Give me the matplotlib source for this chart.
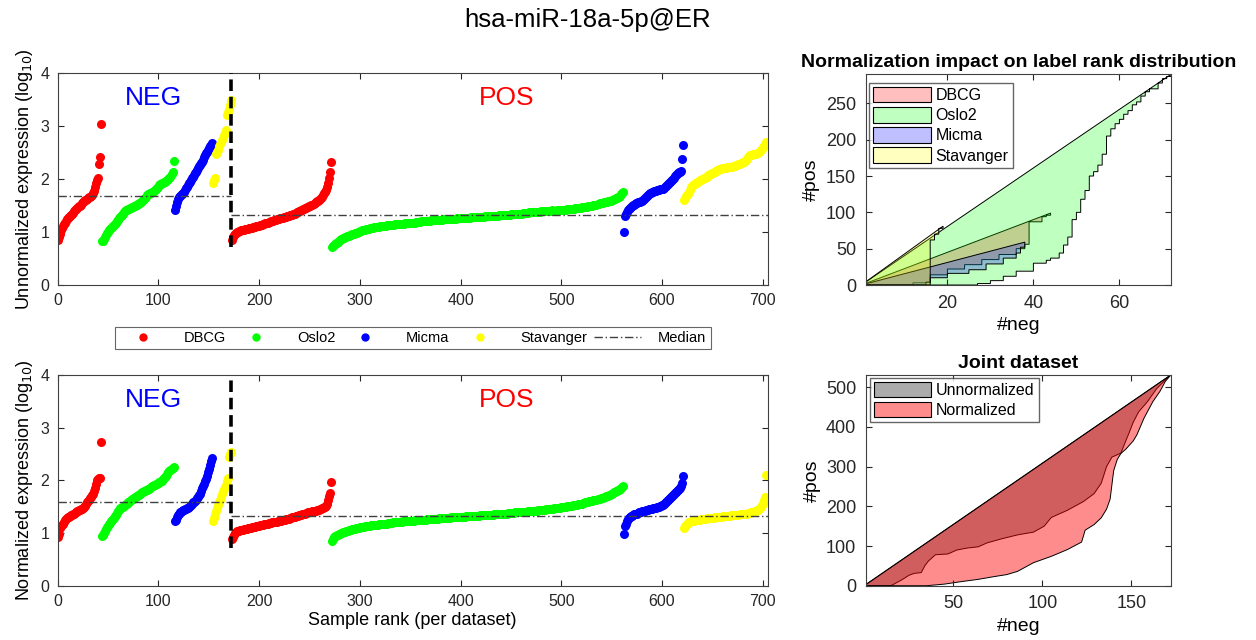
import numpy as np
import matplotlib
matplotlib.use("Agg")
import matplotlib.pyplot as plt
from matplotlib.lines import Line2D
from matplotlib.patches import Patch

plt.rcParams['font.family'] = ['Liberation Sans', 'DejaVu Sans']

datasets = ["DBCG", "Oslo2", "Micma", "Stavanger"]
colors = ["#ff0000", "#00ff00", "#0000ff", "#ffff00"]

# ---- unnormalized expression, sorted per dataset (log10) ----
raw_neg = {
    "DBCG": [0.85, 0.90, 0.97, 1.03, 1.08, 1.12, 1.15, 1.18, 1.21, 1.24, 1.26, 1.28, 1.30, 1.32, 1.34, 1.36,
             1.39, 1.41, 1.43, 1.45, 1.47, 1.49, 1.50, 1.52, 1.54, 1.56, 1.58, 1.60, 1.61, 1.63, 1.64, 1.66,
             1.67, 1.68, 1.70, 1.73, 1.78, 1.86, 1.93, 1.99, 2.02, 2.28, 2.41, 3.05],
    "Oslo2": [0.83, 0.84, 0.86, 0.90, 0.94, 0.98, 1.00, 1.03, 1.05, 1.07, 1.10, 1.12, 1.13, 1.15, 1.18, 1.20,
              1.23, 1.26, 1.29, 1.31, 1.33, 1.35, 1.37, 1.39, 1.41, 1.42, 1.43, 1.44, 1.45, 1.46, 1.47, 1.48,
              1.49, 1.50, 1.51, 1.52, 1.53, 1.54, 1.55, 1.56, 1.58, 1.60, 1.62, 1.64, 1.66, 1.70, 1.71, 1.72,
              1.73, 1.74, 1.75, 1.76, 1.78, 1.80, 1.82, 1.84, 1.86, 1.89, 1.90, 1.91, 1.92, 1.93, 1.94, 1.95,
              1.96, 1.98, 2.00, 2.03, 2.05, 2.10, 2.14, 2.35],
    "Micma": [1.42, 1.50, 1.57, 1.62, 1.66, 1.68, 1.70, 1.72, 1.74, 1.76, 1.80, 1.83, 1.86, 1.89, 1.92, 1.95,
              1.98, 2.02, 2.05, 2.08, 2.11, 2.14, 2.17, 2.21, 2.24, 2.27, 2.30, 2.33, 2.37, 2.41, 2.46, 2.49,
              2.52, 2.55, 2.58, 2.62, 2.65, 2.68],
    "Stavanger": [1.93, 1.98, 2.03, 2.48, 2.52, 2.56, 2.62, 2.66, 2.70, 2.74, 2.78, 2.83, 2.88, 2.93, 3.22,
                  3.26, 3.32, 3.40, 3.50],
}
raw_pos = {
    "DBCG": [0.85, 0.90, 0.94, 0.97, 0.99, 1.00, 1.01, 1.02, 1.02, 1.03, 1.03, 1.04, 1.04, 1.05, 1.05, 1.06,
             1.06, 1.07, 1.07, 1.08, 1.08, 1.09, 1.09, 1.10, 1.11, 1.11, 1.12, 1.12, 1.13, 1.14, 1.14, 1.15,
             1.16, 1.17, 1.17, 1.18, 1.18, 1.19, 1.19, 1.20, 1.21, 1.21, 1.22, 1.23, 1.23, 1.24, 1.24, 1.25,
             1.26, 1.26, 1.27, 1.27, 1.28, 1.29, 1.29, 1.30, 1.30, 1.31, 1.32, 1.32, 1.33, 1.34, 1.34, 1.35,
             1.36, 1.37, 1.38, 1.39, 1.40, 1.41, 1.42, 1.43, 1.44, 1.45, 1.46, 1.47, 1.48, 1.49, 1.50, 1.51,
             1.52, 1.53, 1.54, 1.56, 1.58, 1.59, 1.61, 1.63, 1.65, 1.67, 1.70, 1.73, 1.76, 1.80, 1.86, 1.92,
             2.02, 2.14, 2.33],
    "Oslo2": [0.72, 0.74, 0.76, 0.78, 0.79, 0.80, 0.82, 0.83, 0.85, 0.86, 0.87, 0.88, 0.89, 0.90, 0.91, 0.92,
              0.92, 0.93, 0.94, 0.95, 0.96, 0.96, 0.97, 0.98, 0.99, 0.99, 1.00, 1.01, 1.02, 1.02, 1.03, 1.03,
              1.04, 1.04, 1.05, 1.05, 1.06, 1.06, 1.07, 1.07, 1.08, 1.08, 1.09, 1.09, 1.09, 1.10, 1.10, 1.10,
              1.11, 1.11, 1.11, 1.12, 1.12, 1.12, 1.12, 1.13, 1.13, 1.13, 1.13, 1.14, 1.14, 1.14, 1.14, 1.15,
              1.15, 1.15, 1.15, 1.15, 1.16, 1.16, 1.16, 1.16, 1.16, 1.17, 1.17, 1.17, 1.17, 1.17, 1.18, 1.18,
              1.18, 1.18, 1.18, 1.18, 1.19, 1.19, 1.19, 1.19, 1.19, 1.20, 1.20, 1.20, 1.20, 1.20, 1.21, 1.21,
              1.21, 1.21, 1.21, 1.22, 1.22, 1.22, 1.22, 1.22, 1.22, 1.23, 1.23, 1.23, 1.23, 1.23, 1.23, 1.24,
              1.24, 1.24, 1.24, 1.24, 1.24, 1.25, 1.25, 1.25, 1.25, 1.25, 1.25, 1.25, 1.26, 1.26, 1.26, 1.26,
              1.26, 1.26, 1.26, 1.27, 1.27, 1.27, 1.27, 1.27, 1.27, 1.27, 1.28, 1.28, 1.28, 1.28, 1.28, 1.28,
              1.28, 1.29, 1.29, 1.29, 1.29, 1.29, 1.29, 1.29, 1.30, 1.30, 1.30, 1.30, 1.30, 1.30, 1.30, 1.31,
              1.31, 1.31, 1.31, 1.31, 1.31, 1.31, 1.32, 1.32, 1.32, 1.32, 1.32, 1.32, 1.33, 1.33, 1.33, 1.33,
              1.33, 1.33, 1.34, 1.34, 1.34, 1.34, 1.34, 1.34, 1.35, 1.35, 1.35, 1.35, 1.35, 1.35, 1.36, 1.36,
              1.36, 1.36, 1.36, 1.36, 1.37, 1.37, 1.37, 1.37, 1.37, 1.37, 1.38, 1.38, 1.38, 1.38, 1.38, 1.38,
              1.39, 1.39, 1.39, 1.39, 1.39, 1.39, 1.40, 1.40, 1.40, 1.40, 1.40, 1.41, 1.40, 1.40, 1.40, 1.40,
              1.41, 1.41, 1.41, 1.41, 1.41, 1.42, 1.42, 1.42, 1.42, 1.42, 1.43, 1.43, 1.43, 1.43, 1.44, 1.44,
              1.44, 1.44, 1.45, 1.45, 1.45, 1.45, 1.46, 1.46, 1.46, 1.47, 1.47, 1.47, 1.48, 1.48, 1.48, 1.49,
              1.49, 1.49, 1.50, 1.50, 1.51, 1.51, 1.52, 1.52, 1.53, 1.53, 1.54, 1.54, 1.55, 1.55, 1.56, 1.56,
              1.57, 1.57, 1.58, 1.58, 1.59, 1.59, 1.60, 1.61, 1.62, 1.63, 1.64, 1.65, 1.66, 1.67, 1.69, 1.71,
              1.73, 1.76],
    "Micma": [1.01, 1.30, 1.34, 1.38, 1.41, 1.43, 1.45, 1.47, 1.49, 1.51, 1.52, 1.53, 1.54, 1.55, 1.56, 1.57,
              1.57, 1.58, 1.59, 1.61, 1.63, 1.65, 1.67, 1.68, 1.70, 1.72, 1.73, 1.74, 1.75, 1.76, 1.77, 1.78,
              1.78, 1.79, 1.80, 1.80, 1.81, 1.81, 1.82, 1.82, 1.83, 1.85, 1.87, 1.89, 1.91, 1.93, 1.95, 1.97,
              1.99, 2.01, 2.03, 2.06, 2.08, 2.10, 2.12, 2.13, 2.14, 2.15, 2.38, 2.65],
    "Stavanger": [1.60, 1.64, 1.68, 1.70, 1.72, 1.76, 1.80, 1.85, 1.87, 1.89, 1.90, 1.91, 1.92, 1.94, 1.95,
                  1.96, 1.98, 1.99, 2.00, 2.01, 2.02, 2.03, 2.04, 2.05, 2.07, 2.08, 2.09, 2.10, 2.11, 2.12,
                  2.13, 2.14, 2.15, 2.17, 2.18, 2.19, 2.20, 2.20, 2.21, 2.21, 2.22, 2.22, 2.22, 2.23, 2.23,
                  2.23, 2.23, 2.23, 2.23, 2.24, 2.24, 2.25, 2.26, 2.27, 2.28, 2.29, 2.30, 2.31, 2.32, 2.33,
                  2.35, 2.37, 2.39, 2.41, 2.43, 2.45, 2.46, 2.46, 2.47, 2.47, 2.48, 2.48, 2.49, 2.50, 2.52,
                  2.54, 2.55, 2.57, 2.60, 2.63, 2.67, 2.70],
}

# ---- normalized expression, sorted per dataset (log10) ----
norm_neg = {
    "DBCG": [0.93, 0.98, 1.10, 1.13, 1.16, 1.18, 1.21, 1.24, 1.27, 1.29, 1.30, 1.31, 1.32, 1.34, 1.35, 1.36,
             1.37, 1.38, 1.40, 1.41, 1.42, 1.43, 1.44, 1.45, 1.46, 1.47, 1.49, 1.52, 1.55, 1.58, 1.60, 1.63,
             1.66, 1.69, 1.72, 1.75, 1.80, 1.86, 1.93, 2.00, 2.02, 2.04, 2.05, 2.72],
    "Oslo2": [0.94, 0.97, 1.00, 1.04, 1.08, 1.12, 1.14, 1.17, 1.19, 1.22, 1.25, 1.27, 1.29, 1.32, 1.35, 1.38,
              1.41, 1.44, 1.47, 1.48, 1.49, 1.50, 1.52, 1.53, 1.55, 1.56, 1.58, 1.59, 1.61, 1.62, 1.64, 1.65,
              1.67, 1.68, 1.69, 1.71, 1.72, 1.73, 1.75, 1.76, 1.77, 1.78, 1.79, 1.80, 1.81, 1.82, 1.83, 1.84,
              1.86, 1.87, 1.89, 1.90, 1.91, 1.92, 1.93, 1.94, 1.95, 1.96, 1.97, 1.98, 1.99, 2.02, 2.04, 2.06,
              2.09, 2.12, 2.15, 2.18, 2.20, 2.22, 2.24, 2.26],
    "Micma": [1.22, 1.25, 1.31, 1.34, 1.37, 1.39, 1.40, 1.42, 1.43, 1.44, 1.45, 1.46, 1.47, 1.48, 1.50, 1.52,
              1.54, 1.56, 1.58, 1.59, 1.61, 1.63, 1.66, 1.69, 1.72, 1.75, 1.79, 1.85, 1.89, 1.93, 1.98, 2.03,
              2.09, 2.16, 2.22, 2.30, 2.36, 2.43],
    "Stavanger": [1.22, 1.28, 1.37, 1.42, 1.48, 1.54, 1.58, 1.63, 1.68, 1.74, 1.79, 1.84, 1.88, 1.92, 1.98,
                  2.04, 2.44, 2.50, 2.53],
}
norm_pos = {
    "DBCG": [0.88, 0.93, 0.97, 1.00, 1.02, 1.03, 1.04, 1.04, 1.05, 1.05, 1.06, 1.06, 1.07, 1.07, 1.08, 1.08,
             1.09, 1.09, 1.10, 1.10, 1.11, 1.11, 1.12, 1.12, 1.13, 1.13, 1.14, 1.14, 1.15, 1.15, 1.16, 1.16,
             1.17, 1.17, 1.18, 1.18, 1.18, 1.19, 1.19, 1.19, 1.20, 1.20, 1.20, 1.21, 1.21, 1.21, 1.22, 1.22,
             1.22, 1.23, 1.24, 1.24, 1.25, 1.25, 1.26, 1.26, 1.27, 1.27, 1.28, 1.29, 1.30, 1.30, 1.31, 1.31,
             1.32, 1.33, 1.33, 1.34, 1.35, 1.35, 1.36, 1.36, 1.37, 1.37, 1.38, 1.38, 1.39, 1.39, 1.40, 1.40,
             1.41, 1.41, 1.42, 1.42, 1.43, 1.43, 1.44, 1.45, 1.46, 1.47, 1.48, 1.49, 1.50, 1.52, 1.55, 1.62,
             1.70, 1.76, 1.96],
    "Oslo2": [0.84, 0.88, 0.92, 0.94, 0.95, 0.96, 0.97, 0.98, 0.99, 1.00, 1.00, 1.01, 1.02, 1.02, 1.03, 1.03,
              1.04, 1.05, 1.06, 1.06, 1.07, 1.07, 1.08, 1.08, 1.09, 1.09, 1.10, 1.10, 1.11, 1.11, 1.12, 1.12,
              1.12, 1.13, 1.13, 1.13, 1.14, 1.14, 1.14, 1.15, 1.15, 1.15, 1.15, 1.16, 1.16, 1.16, 1.16, 1.17,
              1.17, 1.17, 1.17, 1.18, 1.18, 1.18, 1.18, 1.18, 1.19, 1.19, 1.19, 1.19, 1.19, 1.20, 1.20, 1.20,
              1.20, 1.20, 1.21, 1.21, 1.21, 1.21, 1.21, 1.22, 1.22, 1.22, 1.22, 1.22, 1.22, 1.23, 1.23, 1.23,
              1.23, 1.23, 1.23, 1.24, 1.24, 1.24, 1.24, 1.24, 1.24, 1.25, 1.25, 1.25, 1.25, 1.25, 1.25, 1.26,
              1.26, 1.26, 1.26, 1.26, 1.26, 1.27, 1.27, 1.27, 1.27, 1.27, 1.27, 1.28, 1.28, 1.28, 1.28, 1.28,
              1.28, 1.29, 1.29, 1.29, 1.29, 1.29, 1.29, 1.30, 1.30, 1.30, 1.30, 1.30, 1.30, 1.30, 1.31, 1.31,
              1.31, 1.31, 1.31, 1.31, 1.31, 1.32, 1.32, 1.32, 1.32, 1.32, 1.32, 1.32, 1.33, 1.33, 1.33, 1.33,
              1.33, 1.33, 1.33, 1.34, 1.34, 1.34, 1.34, 1.34, 1.34, 1.34, 1.35, 1.35, 1.35, 1.35, 1.35, 1.35,
              1.35, 1.36, 1.36, 1.36, 1.36, 1.36, 1.36, 1.36, 1.37, 1.37, 1.37, 1.37, 1.37, 1.37, 1.37, 1.38,
              1.38, 1.38, 1.38, 1.38, 1.38, 1.38, 1.39, 1.39, 1.39, 1.39, 1.39, 1.39, 1.39, 1.40, 1.40, 1.40,
              1.40, 1.40, 1.40, 1.41, 1.41, 1.41, 1.41, 1.41, 1.42, 1.42, 1.42, 1.42, 1.42, 1.43, 1.43, 1.43,
              1.43, 1.44, 1.44, 1.44, 1.44, 1.45, 1.45, 1.45, 1.45, 1.46, 1.46, 1.46, 1.46, 1.47, 1.47, 1.47,
              1.47, 1.48, 1.48, 1.48, 1.49, 1.49, 1.49, 1.50, 1.50, 1.50, 1.51, 1.51, 1.51, 1.52, 1.52, 1.52,
              1.53, 1.53, 1.53, 1.54, 1.54, 1.55, 1.55, 1.55, 1.56, 1.56, 1.57, 1.57, 1.58, 1.58, 1.59, 1.59,
              1.60, 1.60, 1.61, 1.61, 1.62, 1.62, 1.63, 1.63, 1.64, 1.65, 1.65, 1.66, 1.67, 1.67, 1.68, 1.69,
              1.70, 1.70, 1.71, 1.72, 1.73, 1.74, 1.75, 1.76, 1.77, 1.78, 1.79, 1.80, 1.81, 1.82, 1.83, 1.85,
              1.87, 1.89],
    "Micma": [0.99, 1.14, 1.18, 1.22, 1.26, 1.28, 1.30, 1.32, 1.33, 1.35, 1.36, 1.36, 1.37, 1.37, 1.38, 1.39,
              1.40, 1.40, 1.41, 1.41, 1.42, 1.42, 1.43, 1.44, 1.44, 1.45, 1.45, 1.46, 1.46, 1.47, 1.47, 1.48,
              1.48, 1.49, 1.49, 1.50, 1.51, 1.52, 1.53, 1.54, 1.56, 1.57, 1.59, 1.61, 1.63, 1.65, 1.67, 1.69,
              1.70, 1.72, 1.74, 1.76, 1.78, 1.80, 1.81, 1.83, 1.86, 1.90, 1.95, 2.08],
    "Stavanger": [1.09, 1.13, 1.16, 1.18, 1.19, 1.20, 1.21, 1.22, 1.22, 1.23, 1.23, 1.24, 1.24, 1.24, 1.25,
                  1.25, 1.25, 1.26, 1.26, 1.26, 1.27, 1.27, 1.27, 1.28, 1.28, 1.28, 1.28, 1.29, 1.29, 1.29,
                  1.29, 1.30, 1.30, 1.30, 1.30, 1.31, 1.31, 1.31, 1.31, 1.32, 1.32, 1.32, 1.32, 1.33, 1.33,
                  1.33, 1.33, 1.34, 1.34, 1.34, 1.34, 1.35, 1.35, 1.35, 1.35, 1.36, 1.36, 1.36, 1.36, 1.37,
                  1.37, 1.37, 1.37, 1.38, 1.38, 1.38, 1.39, 1.39, 1.40, 1.40, 1.41, 1.42, 1.43, 1.44, 1.46,
                  1.48, 1.50, 1.53, 1.56, 1.62, 1.68, 2.10],
}

# medians (NEG, POS)
median_raw = [1.68, 1.32]
median_norm = [1.58, 1.33]

# ---- label rank curves (#neg, #pos) per dataset ----
curve_neg = {
    "DBCG": [0, 8, 12, 16, 16, 20, 24, 28, 32, 36, 38, 39, 41, 42, 43, 44],
    "Oslo2": [0, 24, 27, 30, 33, 36, 40, 43, 44, 46, 47, 48, 49, 49, 50, 51, 52, 53, 54, 55, 56, 57, 58, 59,
              60, 61, 62, 63, 64, 65, 66, 67, 69, 70, 71, 72],
    "Micma": [0, 12, 15, 16, 20, 25, 29, 33, 36, 37, 38],
    "Stavanger": [0, 16, 16, 17, 17, 18, 18, 19],
}
curve_pos = {
    "DBCG": [0, 0, 3, 6, 14, 22, 28, 35, 42, 50, 56, 87, 87, 94, 96, 99],
    "Oslo2": [0, 0, 2, 6, 12, 19, 30, 34, 37, 44, 55, 66, 76, 90, 100, 118, 130, 150, 156, 165, 180, 205,
              215, 222, 228, 235, 240, 248, 252, 260, 266, 270, 278, 284, 287, 290],
    "Micma": [0, 0, 4, 10, 16, 21, 29, 37, 44, 52, 59],
    "Stavanger": [0, 0, 62, 64, 70, 72, 78, 81],
}

# ---- joint dataset curves ----
joint_unnorm_neg = [0, 15, 20, 23, 25, 28, 32, 34, 36, 40, 47, 52, 58, 64, 69, 77, 86, 95, 101, 105, 114, 123,
                    129, 133, 136, 139, 144, 148, 151, 154, 159, 164, 168, 172]
joint_unnorm_pos = [0, 0, 12, 20, 26, 31, 33, 50, 62, 78, 80, 90, 95, 98, 108, 118, 128, 135, 150, 172, 190,
                    212, 232, 258, 300, 324, 334, 378, 412, 438, 464, 496, 514, 531]
joint_norm_neg = [0, 35, 45, 54, 64, 73, 80, 86, 95, 105, 114, 122, 124, 129, 133, 136, 138, 140, 142, 144,
                  147, 151, 153, 157, 162, 166, 169, 172]
joint_norm_pos = [0, 0, 4, 10, 16, 23, 28, 36, 58, 74, 91, 110, 140, 154, 171, 193, 218, 290, 318, 333,
                  345, 365, 380, 422, 464, 490, 515, 531]


def stair(xs, ys):
    sx, sy = [xs[0]], [ys[0]]
    for i in range(1, len(xs)):
        sx += [xs[i], xs[i]]
        sy += [ys[i - 1], ys[i]]
    return sx, sy


def style_axes(ax, size, pad):
    for sp in ax.spines.values():
        sp.set_color("#404040")
        sp.set_linewidth(0.8)
    ax.tick_params(direction="in", top=True, right=True, length=4, width=0.8,
                   colors="#262626", labelsize=size, pad=pad)


def expression_panel(ax, neg, pos, med, ylabel):
    start = 0
    for name, c in zip(datasets, colors):
        v = neg[name]
        ax.plot(np.arange(start, start + len(v)), v, "o", color=c, ms=6.5, mew=0, zorder=2)
        start += len(v)
    split = start - 0.5
    for name, c in zip(datasets, colors):
        v = pos[name]
        ax.plot(np.arange(start, start + len(v)), v, "o", color=c, ms=6.5, mew=0, zorder=2)
        start += len(v)
    ax.plot([0, split], [med[0], med[0]], color="#404040", lw=1, dashes=(6, 2, 1, 2), zorder=3)
    ax.plot([split, 705], [med[1], med[1]], color="#404040", lw=1, dashes=(6, 2, 1, 2), zorder=3)
    ax.plot([split, split], [0.72, 4.0], color="black", lw=2.6, dashes=(3.2, 1.6), zorder=4)
    ax.text(95, 3.53, "NEG", color="#0000ff", fontsize=19, ha="center", va="center")
    ax.text(446, 3.53, "POS", color="#ff0000", fontsize=19, ha="center", va="center")
    ax.set_xlim(0, 705)
    ax.set_ylim(0, 4)
    ax.set_xticks(range(0, 701, 100))
    ax.set_yticks(range(0, 5))
    ax.set_ylabel(ylabel, fontsize=13)
    style_axes(ax, 11.5, 6)


W, H = 1256, 640
fig = plt.figure(figsize=(W / 100, H / 100), dpi=100)

ax1 = fig.add_axes([57.7 / W, 1 - 285 / H, 710 / W, 211.7 / H])
ax2 = fig.add_axes([57.7 / W, 1 - 585.7 / H, 710 / W, 210.7 / H])
ax3 = fig.add_axes([865.7 / W, 1 - 285 / H, 305.3 / W, 210.7 / H])
ax4 = fig.add_axes([866 / W, 1 - 585.7 / H, 304.7 / W, 210.7 / H])

expression_panel(ax1, raw_neg, raw_pos, median_raw, "Unnormalized expression (log$_{10}$)")
expression_panel(ax2, norm_neg, norm_pos, median_norm, "Normalized expression (log$_{10}$)")
ax2.set_xlabel("Sample rank (per dataset)", fontsize=13, labelpad=2)

# legend between the two left panels
handles = [Line2D([], [], marker="o", ls="none", color=c, ms=6, mew=0) for c in colors]
handles.append(Line2D([], [], color="#404040", lw=1, dashes=(6, 2, 1, 2)))
leg = fig.legend(handles, datasets + ["Median"], ncol=5, loc="center",
                 bbox_to_anchor=(108 / W, 1 - 350 / H, 610 / W, 24 / H), mode="expand",
                 fontsize=10.5, frameon=True, fancybox=False, handlelength=3.2,
                 borderpad=0.3, handletextpad=1.2)
leg.get_frame().set_edgecolor("#404040")
leg.get_frame().set_linewidth(0.8)

# per dataset rank distribution
for name, c in zip(datasets, colors):
    sx, sy = stair(curve_neg[name], curve_pos[name])
    ax3.fill(sx, sy, facecolor=c, alpha=0.25, edgecolor="none")
    ax3.fill(sx, sy, facecolor="none", edgecolor="black", lw=0.7)
ax3.set_xlim(1, 72)
ax3.set_ylim(0, 290)
ax3.set_xticks([20, 40, 60])
ax3.set_yticks(range(0, 251, 50))
ax3.set_xlabel("#neg", fontsize=14)
ax3.set_ylabel("#pos", fontsize=14)
ax3.set_title("Normalization impact on label rank distribution", fontsize=14, fontweight="bold", pad=5)
style_axes(ax3, 13, 7)
h3 = [Patch(facecolor=matplotlib.colors.to_rgba(c, 0.25), edgecolor="black", lw=0.8) for c in colors]
l3 = ax3.legend(h3, datasets, loc="upper left", bbox_to_anchor=(0.012, 0.958), borderaxespad=0,
                fontsize=11.5, fancybox=False, handlelength=3.6, handleheight=1.1,
                borderpad=0.25, labelspacing=0.25, handletextpad=0.3)
l3.get_frame().set_edgecolor("#404040")

# joint dataset
ax4.fill(joint_unnorm_neg, joint_unnorm_pos, facecolor="black", alpha=0.33, edgecolor="none")
ax4.fill(joint_unnorm_neg, joint_unnorm_pos, facecolor="none", edgecolor="black", lw=0.7)
ax4.fill(joint_norm_neg, joint_norm_pos, facecolor="red", alpha=0.45, edgecolor="none")
ax4.fill(joint_norm_neg, joint_norm_pos, facecolor="none", edgecolor="black", lw=0.7)
ax4.set_xlim(1, 172)
ax4.set_ylim(0, 531)
ax4.set_xticks([50, 100, 150])
ax4.set_yticks(range(0, 501, 100))
ax4.set_xlabel("#neg", fontsize=14)
ax4.set_ylabel("#pos", fontsize=14)
ax4.set_title("Joint dataset", fontsize=14, fontweight="bold", pad=5)
style_axes(ax4, 13, 7)
h4 = [Patch(facecolor=matplotlib.colors.to_rgba("black", 0.33), edgecolor="black", lw=0.8),
      Patch(facecolor=matplotlib.colors.to_rgba("red", 0.45), edgecolor="black", lw=0.8)]
l4 = ax4.legend(h4, ["Unnormalized", "Normalized"], loc="upper left", bbox_to_anchor=(0.012, 0.986),
                borderaxespad=0, fontsize=11.5, fancybox=False, handlelength=3.6, handleheight=1.1,
                borderpad=0.25, labelspacing=0.25, handletextpad=0.3)
l4.get_frame().set_edgecolor("#404040")

fig.text(588 / W, 1 - 20 / H, "hsa-miR-18a-5p@ER", fontsize=18.5, ha="center", va="center")

fig.savefig("out.png", dpi=100)
